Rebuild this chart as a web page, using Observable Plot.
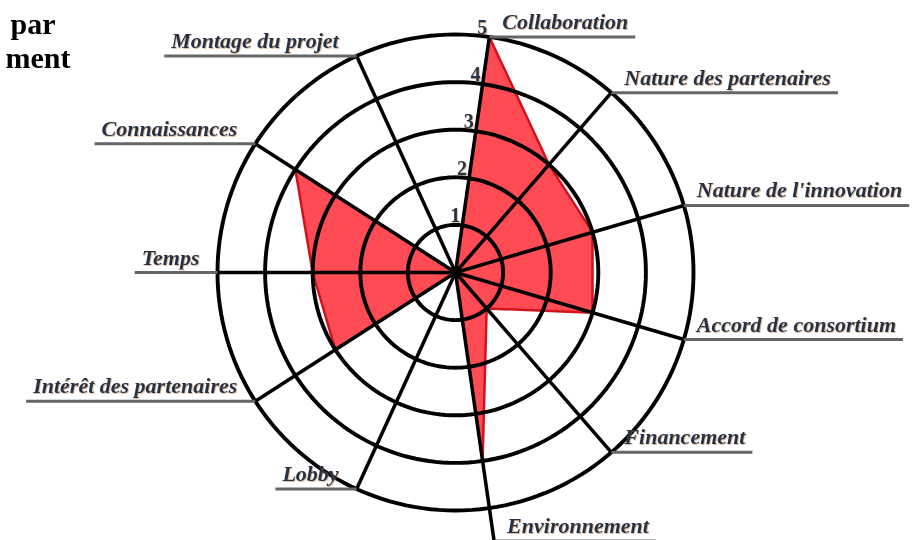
<!DOCTYPE html>
<html><head><meta charset="utf-8">
<script src="https://cdn.jsdelivr.net/npm/d3@7"></script>
<script src="https://cdn.jsdelivr.net/npm/@observablehq/plot@0.6"></script>
<style>
body{margin:0;background:#fff;}
#chart{position:relative;width:913px;height:540px;overflow:hidden;}
</style></head><body><div id="chart"></div>
<script>
// ---- data ----
const axes = ["Collaboration","Nature des partenaires","Nature de l'innovation","Accord de consortium","Financement","Environnement","Lobby","Intérêt des partenaires","Temps","Connaissances","Montage du projet"];
const scores = [5,3,3,3,1,4,0,3,3,4,0];
const ringLevels = [1,2,3,4,5];
const ringLabels = ["1","2","3","4","5"];
const titleLines = ["par","ment"];

// ---- layout ----
const W=913,H=540,CX=455,CY=272,UNIT=47.6;
const step = 360/axes.length;
const START = 270 - 8*step; // "Temps" lies on the horizontal
const ang = i => (START + i*step)*Math.PI/180;
const maxR = d3.max(ringLevels);
const LABEL_SIZE = 22;
const ctx = document.createElement("canvas").getContext("2d");
ctx.font = `italic bold ${LABEL_SIZE}px 'Liberation Serif'`;

const axisRows = axes.map((name,i)=>{
  const s = Math.sin(ang(i)), c = Math.cos(ang(i));
  const reach = c < -0.95 ? maxR*1.14 : maxR;
  const ex = reach*s, ey = reach*c;
  const right = s > 0;
  const w = ctx.measureText(name).width/UNIT;
  const gapR = 13/UNIT, gapL = 18/UNIT, pad = 7/UNIT;
  const tx = right ? ex + gapR : ex - gapL;
  const ux2 = right ? tx + w + pad : tx - w - pad;
  return {name, i, ex, ey, right, ux2, tx};
});

const polygon = scores.map((v,i)=>({axis: axes[i], x: v*Math.sin(ang(i)), y: v*Math.cos(ang(i))}));

const ringPts = ringLevels.flatMap(r => d3.range(0,361,2).map(a=>({r, x: r*Math.sin(a*Math.PI/180), y: r*Math.cos(a*Math.PI/180)})));

const numRows = ringLevels.map((r,k)=>({label: ringLabels[k], x: r*Math.sin(ang(0)), y: r*Math.cos(ang(0))}));

const labelStyle = {x: "tx", y: "ey", text: "name", lineAnchor: "bottom", dy: -8,
  fontFamily: "Liberation Serif", fontStyle: "italic", fontWeight: "bold", fontSize: LABEL_SIZE, fill: "#23334a"};
const titleStyle = {frameAnchor: "top-left", text: d => d, textAnchor: "end", lineAnchor: "bottom",
  fontFamily: "Liberation Serif", fontWeight: "bold", fontSize: 30, fill: "#000"};

const chart = Plot.plot({
  width: W, height: H,
  margin: 0,
  x: {domain: [-CX/UNIT, (W-CX)/UNIT], range: [0, W], axis: null},
  y: {domain: [-(H-CY)/UNIT, CY/UNIT], range: [H, 0], axis: null},
  style: {background: "#fff", overflow: "visible"},
  marks: [
    Plot.line(polygon, {x: "x", y: "y", curve: "linear-closed", fill: "#ff4b53", stroke: "#d0141f", strokeWidth: 2.5, strokeLinejoin: "miter"}),
    Plot.line(ringPts, {x: "x", y: "y", z: "r", curve: "linear-closed", stroke: "#000", strokeWidth: 3.9}),
    Plot.link(axisRows, {x1: 0, y1: 0, x2: "ex", y2: "ey", stroke: "#000", strokeWidth: 3.5}),
    Plot.link(axisRows, {x1: "ex", y1: "ey", x2: "ux2", y2: "ey", stroke: "#666", strokeWidth: 3}),
    Plot.text(axisRows.filter(d => d.right), {...labelStyle, textAnchor: "start"}),
    Plot.text(axisRows.filter(d => !d.right), {...labelStyle, textAnchor: "end"}),
    Plot.text(numRows, {x: "x", y: "y", text: "label", textAnchor: "end", lineAnchor: "bottom", dx: -2, dy: -3,
      fontFamily: "Liberation Serif", fontWeight: "bold", fontSize: 20, fill: "#23334a"}),
    Plot.text([titleLines[0]], {...titleStyle, dx: 55, dy: 33}),
    Plot.text([titleLines[1]], {...titleStyle, dx: 70, dy: 67})
  ]
});
document.getElementById("chart").appendChild(chart);

// soft warm shadow behind the axis labels, as in the reference
const ns = "http://www.w3.org/2000/svg";
const defs = document.createElementNS(ns, "defs");
defs.innerHTML = `<filter id="warm" x="-5%" y="-20%" width="110%" height="140%"><feDropShadow dx="0.8" dy="0.8" stdDeviation="0.6" flood-color="#b0702c" flood-opacity="0.55"/></filter>`;
chart.insertBefore(defs, chart.firstChild);
const textGroups = chart.querySelectorAll("g[aria-label='text']");
for (let k = 0; k < 3; k++) textGroups[k].setAttribute("filter", "url(#warm)");
</script></body></html>
